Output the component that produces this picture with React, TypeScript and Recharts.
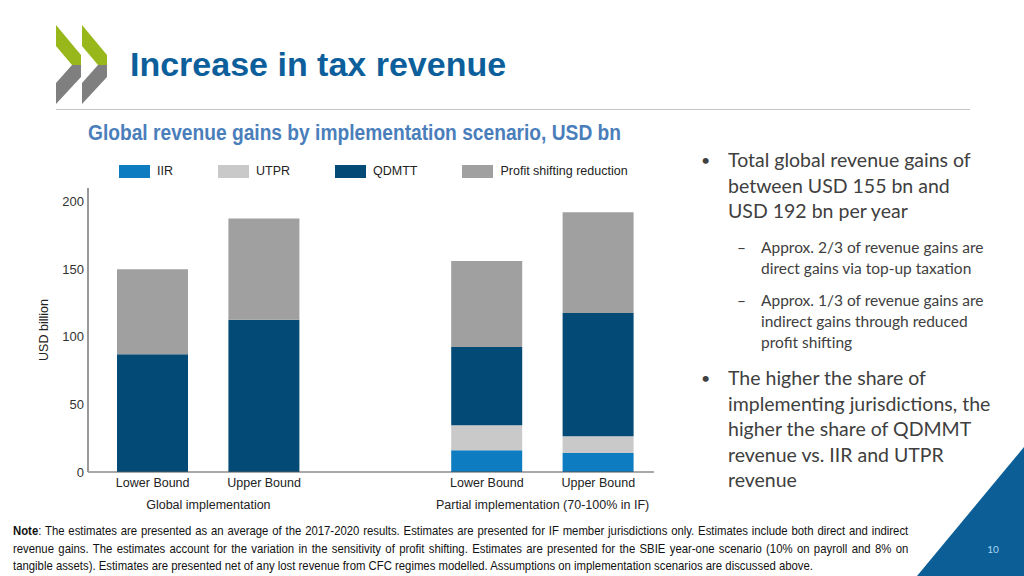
import React from 'react'
import { BarChart, Bar, XAxis, YAxis } from 'recharts'

// categories (the empty one keeps the gap between the two scenarios)
const scenarios = ['Lower Bound', 'Upper Bound', '', 'Lower Bound', 'Upper Bound']
const groupOf = [0, 0, -1, 1, 1]
const groupLabels = ['Global implementation', 'Partial implementation (70-100% in IF)']

// USD billion
const iir = [0, 0, null, 16, 14]
const utpr = [0, 0, null, 18.5, 12.5]
const qdmtt = [87, 112.5, null, 58, 91]
const profitShifting = [63, 75, null, 63.5, 74.5]

const yTicks = [0, 50, 100, 150, 200]

const series = [
    { key: 'iir', name: 'IIR', color: '#0e7cc1' },
    { key: 'utpr', name: 'UTPR', color: '#c9c9c9' },
    { key: 'qdmtt', name: 'QDMTT', color: '#034b76' },
    { key: 'ps', name: 'Profit shifting reduction', color: '#a0a0a0' },
]

const data = scenarios.map((name, i) => ({
    id: String(i),
    name,
    iir: iir[i],
    utpr: utpr[i],
    qdmtt: qdmtt[i],
    ps: profitShifting[i],
}))

const CHART_W = 660
const CHART_H = 380
const Y_AXIS_W = 88
const PAD_LEFT = 9
const MARGIN_RIGHT = 6
const BAND = (CHART_W - Y_AXIS_W - MARGIN_RIGHT - PAD_LEFT) / scenarios.length

const FONT = '"Liberation Sans", Arial, sans-serif'
const BODY_FONT = 'Lato, "Open Sans", sans-serif'

function ScenarioTick(props: any) {
    const { x, y, payload } = props
    const i = Number(payload.value)
    const g = groupOf[i]
    const lastInGroup = g >= 0 && groupOf[i + 1] !== g
    return (
        <g>
            <text x={x} y={y} dy={13} textAnchor="middle" fontSize={12.5} fill="#222" fontFamily={FONT}>
                {scenarios[i]}
            </text>
            {lastInGroup && (
                <text x={x - BAND / 2} y={y} dy={35} textAnchor="middle" fontSize={12.5} fill="#222" fontFamily={FONT}>
                    {groupLabels[g]}
                </text>
            )}
        </g>
    )
}

function YLabel(props: any) {
    const { viewBox } = props
    const cx = viewBox.x + 44
    const cy = viewBox.y + viewBox.height / 2
    return (
        <text x={cx} y={cy} transform={`rotate(-90 ${cx} ${cy})`} textAnchor="middle" dominantBaseline="central"
            fontSize={12.5} fill="#222" fontFamily={FONT}>
            USD billion
        </text>
    )
}

function LegendRow() {
    return (
        <div style={{ display: 'flex', alignItems: 'center', gap: 45, fontFamily: FONT, fontSize: 12.5, color: '#222' }}>
            {series.map((s) => (
                <div key={s.key} style={{ display: 'flex', alignItems: 'center' }}>
                    <span style={{ display: 'inline-block', width: 31, height: 13, background: s.color, marginRight: 7 }} />
                    <span>{s.name}</span>
                </div>
            ))}
        </div>
    )
}

function RevenueChart() {
    return (
        <BarChart
            width={CHART_W}
            height={CHART_H}
            data={data}
            margin={{ top: 48, right: MARGIN_RIGHT, left: 0, bottom: 0 }}
            barSize={71}
        >
            <XAxis
                dataKey="id"
                type="category"
                height={48}
                tickLine={false}
                tickSize={0}
                tick={<ScenarioTick />}
                interval={0}
                padding={{ left: PAD_LEFT, right: 0 }}
                axisLine={{ stroke: '#555', strokeWidth: 1.2 }}
            />
            <YAxis
                width={Y_AXIS_W}
                domain={[0, 210]}
                ticks={yTicks}
                tickLine={false}
                tickSize={0}
                tickMargin={4}
                axisLine={{ stroke: '#999', strokeWidth: 2 }}
                tick={{ fontSize: 13, fill: '#333', fontFamily: FONT }}
                label={<YLabel />}
            />
            {series.map((s) => (
                <Bar key={s.key} dataKey={s.key} name={s.name} stackId="a" fill={s.color} isAnimationActive={false} />
            ))}
        </BarChart>
    )
}

function Logo() {
    const chevron = (dx: number) => (
        <g key={dx} transform={`translate(${dx} 0)`}>
            <polygon points="56,25 81,55 81,65 72,65 56,46" fill="#97b71b" />
            <polygon points="72,65 81,65 81,77 56,104 56,83" fill="#7f7f7f" />
        </g>
    )
    return (
        <svg width={140} height={110} style={{ position: 'absolute', left: 0, top: 0 }}>
            {chevron(0)}
            {chevron(26)}
        </svg>
    )
}

export default function App() {
    const bullet: React.CSSProperties = { position: 'absolute', fontFamily: BODY_FONT, color: '#404040' }
    return (
        <div style={{ position: 'absolute', left: 0, top: 0, width: 1024, height: 576, background: '#fff', overflow: 'hidden' }}>
            <Logo />
            <div style={{ position: 'absolute', left: 130, top: 44, fontFamily: FONT, fontWeight: 700, fontSize: 34, color: '#0d5f9c', lineHeight: '40px' }}>
                Increase in tax revenue
            </div>
            <div style={{ position: 'absolute', left: 56, top: 109, width: 914, height: 1, background: '#c4c4c4' }} />

            <div style={{ position: 'absolute', left: 88, top: 119, fontFamily: FONT, fontWeight: 700, fontSize: 22, color: '#4a7ebb', lineHeight: '28px', whiteSpace: 'nowrap', transform: 'scaleX(0.872)', transformOrigin: 'left center' }}>
                Global revenue gains by implementation scenario, USD bn
            </div>

            <div style={{ position: 'absolute', left: 119, top: 164 }}>
                <LegendRow />
            </div>

            <div style={{ position: 'absolute', left: 0, top: 140 }}>
                <RevenueChart />
            </div>

            {/* right-hand bullets */}
            <div style={{ ...bullet, left: 701, top: 147, fontSize: 16, lineHeight: '25.5px' }}>•</div>
            <div style={{ ...bullet, left: 728, top: 147, fontSize: 19.5, lineHeight: '25.5px', whiteSpace: 'nowrap' }}>
                Total global revenue gains of<br />between USD 155 bn and<br />USD 192 bn per year
            </div>
            <div style={{ ...bullet, left: 737, top: 236.5, fontSize: 15.5, lineHeight: '21px' }}>–</div>
            <div style={{ ...bullet, left: 761, top: 236.5, fontSize: 15.5, lineHeight: '21px', whiteSpace: 'nowrap' }}>
                Approx. 2/3 of revenue gains are<br />direct gains via top-up taxation
            </div>
            <div style={{ ...bullet, left: 737, top: 289.5, fontSize: 15.5, lineHeight: '21px' }}>–</div>
            <div style={{ ...bullet, left: 761, top: 289.5, fontSize: 15.5, lineHeight: '21px', whiteSpace: 'nowrap' }}>
                Approx. 1/3 of revenue gains are<br />indirect gains through reduced<br />profit shifting
            </div>
            <div style={{ ...bullet, left: 701, top: 365, fontSize: 16, lineHeight: '25.5px' }}>•</div>
            <div style={{ ...bullet, left: 728, top: 365, fontSize: 19.5, lineHeight: '25.5px', whiteSpace: 'nowrap' }}>
                The higher the share of<br />implementing jurisdictions, the<br />higher the share of QDMMT<br />revenue vs. IIR and UTPR<br />revenue
            </div>

            {/* note */}
            <div style={{ position: 'absolute', left: 13, top: 522, width: 1041, transform: 'scaleX(0.86)', transformOrigin: 'left top', fontFamily: FONT, fontSize: 13.2, lineHeight: '17.5px', color: '#111' }}>
                <div style={{ textAlign: 'justify', textAlignLast: 'justify' }}>
                    <b>Note</b>: The estimates are presented as an average of the 2017-2020 results. Estimates are presented for IF member jurisdictions only. Estimates include both direct and indirect
                </div>
                <div style={{ textAlign: 'justify', textAlignLast: 'justify' }}>
                    revenue gains. The estimates account for the variation in the sensitivity of profit shifting. Estimates are presented for the SBIE year-one scenario (10% on payroll and 8% on
                </div>
                <div style={{ whiteSpace: 'nowrap' }}>
                    tangible assets). Estimates are presented net of any lost revenue from CFC regimes modelled. Assumptions on implementation scenarios are discussed above.
                </div>
            </div>

            <svg width={1024} height={576} style={{ position: 'absolute', left: 0, top: 0, pointerEvents: 'none' }}>
                <polygon points="917,576 1024,447 1024,576" fill="#0c5e96" />
                <text x={993} y={553} textAnchor="middle" fontSize={10} fill="#a9d6f2" fontFamily={BODY_FONT}>10</text>
            </svg>
        </div>
    )
}
